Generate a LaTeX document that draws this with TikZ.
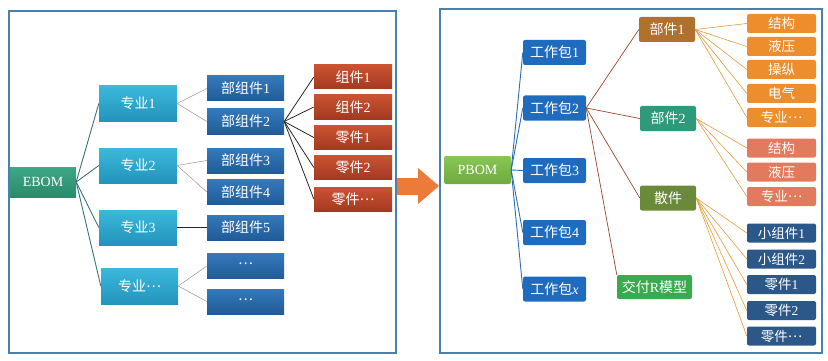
\documentclass[tikz,border=0pt]{standalone}
\usepackage{fontspec}
\setmainfont{Liberation Serif}
\newfontfamily\cjk{Noto Sans CJK SC}
\newcommand\zhs[1]{{\cjk #1}}
\newcommand\mdots{\raisebox{0.3em}{\cjk …}}
\definecolor{frameC}{HTML}{4A7FAE}
\definecolor{ebT}{HTML}{3DA886}\definecolor{ebB}{HTML}{2A8A6A}
\definecolor{zyT}{HTML}{3BB8DB}\definecolor{zyB}{HTML}{2394BC}
\definecolor{bzT}{HTML}{3479BB}\definecolor{bzB}{HTML}{215B97}
\definecolor{zjT}{HTML}{CB5331}\definecolor{zjB}{HTML}{A33921}
\definecolor{pbT}{HTML}{88C655}\definecolor{pbB}{HTML}{6EAA3E}
\definecolor{gzb}{HTML}{1F6CBE}
\definecolor{bjA}{HTML}{B0712F}
\definecolor{bjB}{HTML}{2E9A7A}
\definecolor{sjC}{HTML}{6A8A3A}
\definecolor{jfC}{HTML}{3AAA4F}
\definecolor{orgC}{HTML}{EE8D2C}
\definecolor{salC}{HTML}{E27A5E}
\definecolor{dblC}{HTML}{2B5889}
\definecolor{arrC}{HTML}{EC7B3A}
\definecolor{ebL}{HTML}{3D6F82}
\definecolor{grL}{HTML}{A58B8B}
\definecolor{pbL}{HTML}{2C6DB8}
\definecolor{brL}{HTML}{9A4530}
\definecolor{orL}{HTML}{E39A3A}
\begin{document}
\begin{tikzpicture}[x=1pt,y=-1pt,
  bx/.style={rectangle, inner sep=0pt, text=white, font=\fontsize{14}{14}\selectfont},
  ebbox/.style={bx, minimum width=66pt, minimum height=30pt, top color=ebT, bottom color=ebB},
  zybox/.style={bx, minimum width=78pt, minimum height=35pt, top color=zyT, bottom color=zyB},
  bzbox/.style={bx, minimum width=77pt, minimum height=25pt, top color=bzT, bottom color=bzB},
  zjbox/.style={bx, minimum width=78pt, minimum height=24pt, top color=zjT, bottom color=zjB},
  rbx/.style={bx, rounded corners=2pt},
  pbbox/.style={rbx, minimum width=67pt, minimum height=28pt, top color=pbT, bottom color=pbB},
  gzbox/.style={rbx, minimum width=63pt, minimum height=25pt, fill=gzb},
  bjbox/.style={rbx, minimum width=56pt, minimum height=25pt},
  leaf/.style={rbx, minimum width=69pt, minimum height=19pt, font=\fontsize{13.5}{13.5}\selectfont},
  frame/.style={draw=frameC, line width=1.2pt},
  ebline/.style={draw=ebL, line width=0.9pt},
  grline/.style={draw=grL, line width=0.5pt},
  bkline/.style={draw=black!85, line width=0.8pt},
  pbline/.style={draw=pbL, line width=0.9pt},
  brline/.style={draw=brL, line width=0.7pt},
  orline/.style={draw=orL, line width=0.6pt}
]
\useasboundingbox (0,0) rectangle (828,361);
% frames
\draw[frame] (9,11) rectangle (396,353);
\draw[frame] (440,9) rectangle (822,353);
% arrow
\fill[arrC] (397,178) -- (418,178) -- (418,168) -- (439,186) -- (418,204) -- (418,195) -- (397,195) -- cycle;

% ---------- EBOM side ----------
\node[ebbox] (eb) at (43,182) {EBOM};
\node[zybox] (zy1) at (138,103.5) {\zhs{专业}1};
\node[zybox] (zy2) at (138,165.5) {\zhs{专业}2};
\node[zybox] (zy3) at (138,227.5) {\zhs{专业}3};
\node[zybox, minimum width=77pt, minimum height=36pt] (zy4) at (139.5,286) {\zhs{专业}\mdots};

\node[bzbox] (bz1) at (245.5,88.5) {\zhs{部组件}1};
\node[bzbox] (bz2) at (245.5,121.5) {\zhs{部组件}2};
\node[bzbox] (bz3) at (245.5,160.5) {\zhs{部组件}3};
\node[bzbox] (bz4) at (245.5,192) {\zhs{部组件}4};
\node[bzbox] (bz5) at (245.5,227.5) {\zhs{部组件}5};
\node[bzbox] (bz6) at (245.5,266) {\mdots};
\node[bzbox] (bz7) at (245.5,301.5) {\mdots};

\node[zjbox] (zj1) at (353,77) {\zhs{组件}1};
\node[zjbox] (zj2) at (353,107) {\zhs{组件}2};
\node[zjbox] (zj3) at (353,137.5) {\zhs{零件}1};
\node[zjbox] (zj4) at (353,167.5) {\zhs{零件}2};
\node[zjbox] (zj5) at (353,199) {\zhs{零件}\mdots};

\foreach \t in {zy1,zy2,zy3,zy4} \draw[ebline] (eb.east) -- (\t.west);
\draw[grline] (zy1.east) -- (bz1.west);
\draw[grline] (zy1.east) -- (bz2.west);
\draw[grline] (zy2.east) -- (bz3.west);
\draw[grline] (zy2.east) -- (bz4.west);
\draw[bkline, line width=0.6pt] (zy3.east) -- (bz5.west);
\draw[grline] (zy4.east) -- (bz6.west);
\draw[grline] (zy4.east) -- (bz7.west);
\foreach \t in {zj1,zj2,zj3,zj4,zj5} \draw[bkline] (bz2.east) -- (\t.west);

% ---------- PBOM side ----------
\node[pbbox] (pb) at (477.5,170) {PBOM};
\node[gzbox] (gz1) at (554.5,52.5) {\zhs{工作包}1};
\node[gzbox] (gz2) at (554.5,108) {\zhs{工作包}2};
\node[gzbox] (gz3) at (554.5,170.5) {\zhs{工作包}3};
\node[gzbox] (gz4) at (554.5,232.5) {\zhs{工作包}4};
\node[gzbox] (gz5) at (554.5,289) {\zhs{工作包}\textit{x}};

\node[bjbox, fill=bjA] (bj1) at (667,29.5) {\zhs{部件}1};
\node[bjbox, fill=bjB] (bj2) at (668,118.5) {\zhs{部件}2};
\node[bjbox, fill=sjC] (sj) at (668,198) {\zhs{散件}};
\node[rbx, fill=jfC, minimum width=75pt, minimum height=24pt] (jf) at (654.5,287) {\zhs{交付}R\zhs{模型}};

\node[leaf, fill=orgC] (a1) at (781.5,23.5) {\zhs{结构}};
\node[leaf, fill=orgC] (a2) at (781.5,46.5) {\zhs{液压}};
\node[leaf, fill=orgC] (a3) at (781.5,69.5) {\zhs{操纵}};
\node[leaf, fill=orgC] (a4) at (781.5,93.5) {\zhs{电气}};
\node[leaf, fill=orgC] (a5) at (781.5,117.5) {\zhs{专业}\mdots};
\node[leaf, fill=salC] (b1) at (781.5,148) {\zhs{结构}};
\node[leaf, fill=salC] (b2) at (781.5,172) {\zhs{液压}};
\node[leaf, fill=salC] (b3) at (781.5,196.5) {\zhs{专业}\mdots};
\node[leaf, fill=dblC] (c1) at (781.5,233) {\zhs{小组件}1};
\node[leaf, fill=dblC] (c2) at (781.5,259) {\zhs{小组件}2};
\node[leaf, fill=dblC] (c3) at (781.5,284.5) {\zhs{零件}1};
\node[leaf, fill=dblC] (c4) at (781.5,310.5) {\zhs{零件}2};
\node[leaf, fill=dblC] (c5) at (781.5,336) {\zhs{零件}\mdots};

\foreach \t in {gz1,gz2,gz3,gz4,gz5} \draw[pbline] (pb.east) -- (\t.west);
\draw[brline] (gz2.east) -- (bj1.west);
\draw[brline] (gz2.east) -- (bj2.west);
\draw[brline] (gz2.east) -- (sj.west);
\draw[brline] (gz2.east) -- (jf.north west);
\foreach \t in {a1,a2,a3,a4,a5} \draw[orline] (bj1.east) -- (\t.west);
\foreach \t in {b1,b2,b3} \draw[orline] (bj2.east) -- (\t.west);
\foreach \t in {c1,c2,c3,c4,c5} \draw[orline] (sj.east) -- (\t.west);
\end{tikzpicture}
\end{document}
